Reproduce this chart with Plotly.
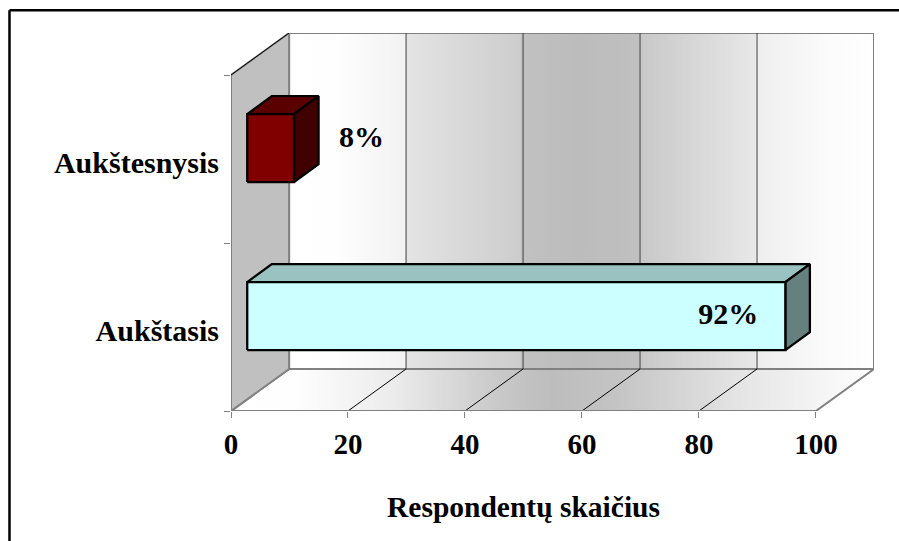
import plotly.graph_objects as go

categories = ["Aukštasis", "Aukštesnysis"]
values = [92, 8]
value_labels = ["92%", "8%"]
x_ticks = [0, 20, 40, 60, 80, 100]
axis_title = "Respondentų skaičius"

# geometry of the pseudo-3D box, in axis units
PX_X = 5.84      # pixels per x unit
PX_Y = 168.0     # pixels per category band
WALL_DX = 58 / PX_X
WALL_DY = 42 / PX_Y
BAR_DX = 24.5 / PX_X
BAR_DY = 18 / PX_Y
BAR_X0 = 16.2 / PX_X
BAR_H = 68 / PX_Y
BAR_LIFT = 0.065
XMAX = 100 + WALL_DX
YMAX = 2 + WALL_DY
FONT = "Liberation Serif"
WALL_GRAD = [[0, "#ffffff"], [0.08, "#fefefe"], [0.198, "#f2f2f2"], [0.2, "#e4e4e4"],
             [0.395, "#cdcdcd"], [0.398, "#c1c1c1"], [0.5, "#bcbcbc"], [0.598, "#c0c0c0"],
             [0.6, "#c8c8c8"], [0.797, "#e8e8e8"], [0.8, "#eeeeee"], [0.92, "#fbfbfb"],
             [1, "#ffffff"]]
FLOOR_GRAD = [[0, "#ffffff"], [0.1, "#fefefe"], [0.25, "#ececec"], [0.42, "#c8c8c8"],
              [0.5, "#bdbdbd"], [0.6, "#c4c4c4"], [0.8, "#e6e6e6"], [1, "#ffffff"]]

fig = go.Figure()


def poly(xs, ys, fill=None, line="#000000", width=1, grad=None):
    kw = dict(x=xs, y=ys, mode="lines", hoverinfo="skip", showlegend=False,
              line=dict(color=line, width=width))
    if fill or grad:
        kw["fill"] = "toself"
    if fill:
        kw["fillcolor"] = fill
    if grad:
        kw["fillgradient"] = dict(type="horizontal", colorscale=grad)
    fig.add_trace(go.Scatter(**kw))


# walls and floor
poly([WALL_DX, XMAX, XMAX, WALL_DX, WALL_DX],
     [WALL_DY, WALL_DY, YMAX, YMAX, WALL_DY], line="#808080", width=2, grad=WALL_GRAD)
poly([0, 100, XMAX, WALL_DX, 0], [0, 0, WALL_DY, WALL_DY, 0],
     line="#808080", width=2, grad=FLOOR_GRAD)
poly([0, WALL_DX, WALL_DX, 0, 0], [0, WALL_DY, YMAX, 2, 0],
     fill="#c0c0c0", line="#808080", width=2)
poly([0, WALL_DX], [2, YMAX], line="#000000", width=1)

# grid lines
for t in x_ticks[1:-1]:
    poly([t, t + WALL_DX], [0, WALL_DY], line="#000000", width=1)
    poly([t + WALL_DX, t + WALL_DX], [WALL_DY, YMAX], line="#404040", width=1)

# x axis line
poly([0, 100], [0, 0], line="#808080", width=2)

# bars
styles = [("#ccffff", "#99c2c0", "#668080", 2.3), ("#800000", "#5a0000", "#400000", 2.3)]
for i, v in enumerate(values):
    front, top, side, w = styles[i]
    x0, x1 = BAR_X0, BAR_X0 + v
    y0 = i + 0.5 - BAR_H / 2 + BAR_LIFT
    y1 = y0 + BAR_H
    poly([x0, x0 + BAR_DX, x1 + BAR_DX, x1, x0], [y1, y1 + BAR_DY, y1 + BAR_DY, y1, y1],
         fill=top, width=w)
    poly([x1, x1 + BAR_DX, x1 + BAR_DX, x1, x1], [y0, y0 + BAR_DY, y1 + BAR_DY, y1, y0],
         fill=side, width=w)
    poly([x0, x1, x1, x0, x0], [y0, y0, y1, y1, y0], fill=front, width=w)

# value labels
label_x = [values[0] - 7, values[1] + 14.3]
label_y = [0.565, 1.615]
fig.add_trace(go.Scatter(x=label_x, y=label_y, text=value_labels, mode="text",
                         textposition="middle center", hoverinfo="skip", showlegend=False,
                         textfont=dict(family=FONT, size=30, color="#000000", weight="bold")))

fig.add_annotation(x=50, y=0, yshift=-96, xref="x", yref="y", text="<b>" + axis_title + "</b>",
                   showarrow=False, yanchor="middle",
                   font=dict(family=FONT, size=29.5, color="#000000"))

fig.update_layout(
    width=899, height=541, autosize=False,
    margin=dict(l=231, r=25, t=33, b=130, autoexpand=False),
    paper_bgcolor="#ffffff", plot_bgcolor="#ffffff",
    showlegend=False,
    xaxis=dict(range=[0, XMAX], showgrid=False, zeroline=False, showline=False,
               tickmode="array", tickvals=x_ticks, ticks="outside", ticklen=6,
               tickcolor="#808080", tickwidth=1, ticklabelstandoff=1,
               tickfont=dict(family=FONT, size=29, color="#000000", weight="bold")),
    yaxis=dict(range=[0, YMAX], showgrid=False, zeroline=False, showline=False,
               tickmode="array", tickvals=[0.5, 1.5], ticktext=categories, ticks="",
               ticklabelshift=3, ticklabelstandoff=11,
               minor=dict(tickmode="array", tickvals=[0, 1, 2], ticks="outside", ticklen=6,
                          tickcolor="#808080", tickwidth=1, showgrid=False),
               tickfont=dict(family=FONT, size=30, color="#000000", weight="bold")),
    shapes=[
        dict(type="line", xref="paper", yref="paper", x0=-0.3445, x1=2, y0=1.06, y1=1.06,
             line=dict(color="#000000", width=2.5), layer="above"),
        dict(type="line", xref="paper", yref="paper", x0=-0.3445, x1=-0.3445, y0=1.06, y1=-1,
             line=dict(color="#000000", width=2.5), layer="above"),
    ],
)
fig.write_html("out.html", config={"displayModeBar": False},
               post_script="document.body.style.margin='0';document.body.style.overflow='hidden';")
